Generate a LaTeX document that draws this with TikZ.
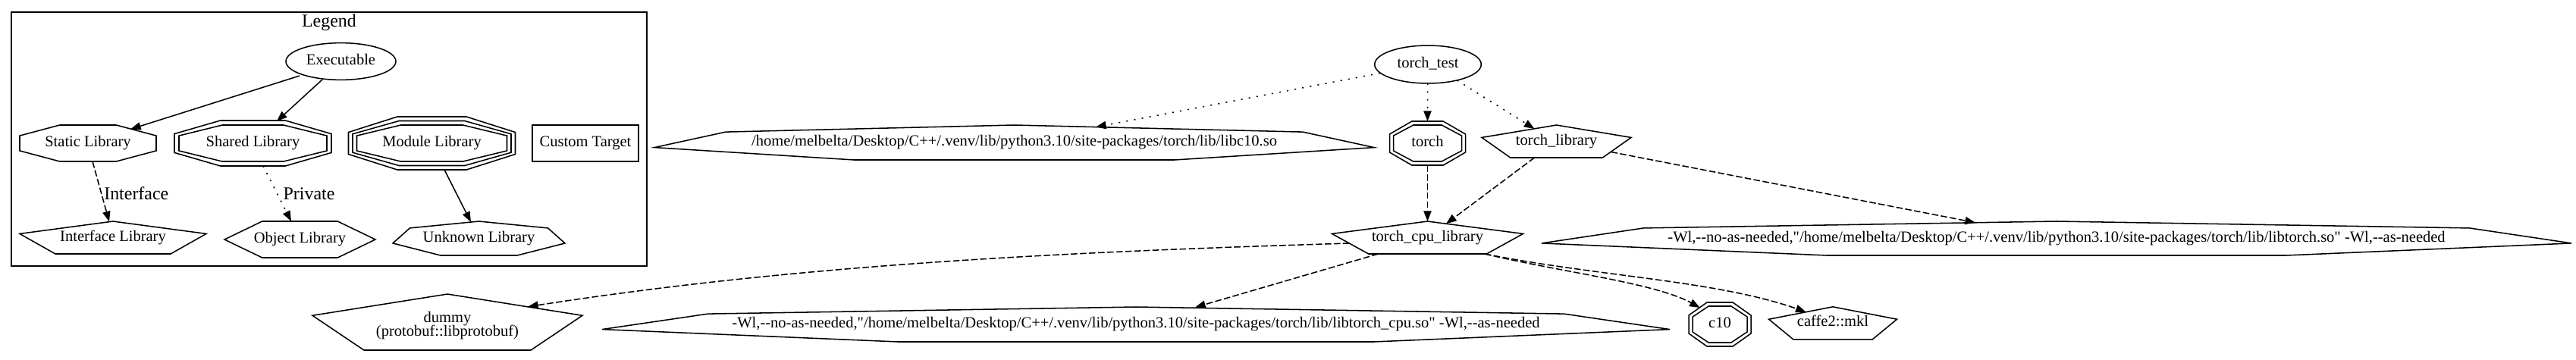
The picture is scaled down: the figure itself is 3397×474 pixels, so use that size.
\documentclass[tikz,border=0pt]{standalone}
\usepackage{fontspec}
\setmainfont{Liberation Serif}[Ligatures=TeXOff]
\usetikzlibrary{arrows.meta,calc,shapes.geometric}

\newcommand\gvOct[4]{\draw[shp] (#1-#3/2,#2-0.207*#4) -- (#1-0.207*#3,#2-#4/2) -- (#1+0.207*#3,#2-#4/2) -- (#1+#3/2,#2-0.207*#4) -- (#1+#3/2,#2+0.207*#4) -- (#1+0.207*#3,#2+#4/2) -- (#1-0.207*#3,#2+#4/2) -- (#1-#3/2,#2+0.207*#4) -- cycle;}
\newcommand\gvPent[4]{\draw[shp] (#1,#2-#4/2) -- (#1+#3/2,#2-0.118*#4) -- (#1+0.309*#3,#2+#4/2) -- (#1-0.309*#3,#2+#4/2) -- (#1-#3/2,#2-0.118*#4) -- cycle;}
\newcommand\gvHex[4]{\draw[shp] (#1-#3/2,#2) -- (#1-#3/4,#2-#4/2) -- (#1+#3/4,#2-#4/2) -- (#1+#3/2,#2) -- (#1+#3/4,#2+#4/2) -- (#1-#3/4,#2+#4/2) -- cycle;}
\newcommand\gvSept[4]{\draw[shp] (#1,#2-#4/2) -- (#1+0.401*#3,#2-0.302*#4) -- (#1+#3/2,#2+0.143*#4) -- (#1+0.2225*#3,#2+#4/2) -- (#1-0.2225*#3,#2+#4/2) -- (#1-#3/2,#2+0.143*#4) -- (#1-0.401*#3,#2-0.302*#4) -- cycle;}

\tikzset{
  gvtext/.style={inner sep=0pt, text height=8pt, text depth=2.74pt, font=\fontsize{12}{14}\selectfont},
  basetext/.style={inner sep=0pt, anchor=base, font=\fontsize{12}{14}\selectfont},
  elabel/.style={inner sep=0pt, anchor=base, font=\fontsize{14}{16}\selectfont},
  shp/.style={draw=black, line width=0.9pt, line join=miter},
  ellnode/.style={gvtext, shp, ellipse},
  pub/.style={draw=black, line width=0.9pt, -{Triangle[length=8pt,width=6pt]}},
  dashedge/.style={pub, dash pattern=on 5pt off 2pt},
  dottedge/.style={pub, dash pattern=on 1.2pt off 4.8pt},
}

\begin{document}
\begin{tikzpicture}[x=0.5848pt, y=-0.5848pt]
\useasboundingbox (0,0) rectangle (3397,474);

% ---------- Legend ----------
\draw[shp] (15,16) rectangle (853,351);
\node[elabel] (legend) at (434,35.5) {Legend};

\node[ellnode, minimum width=84.8pt, minimum height=28.5pt] (exe) at (449.5,81) {Executable};

\gvOct{116}{189}{180}{48}
\node[gvtext] (static) at (116,189) {Static Library};

\gvOct{333.5}{189}{195}{48}
\gvOct{333.5}{189}{207}{60}
\node[gvtext] (shared) at (333.5,189) {Shared Library};

\gvOct{569.5}{189}{198}{48}
\gvOct{569.5}{189}{209}{59}
\gvOct{569.5}{189}{220}{70}
\node[gvtext] (module) at (569.5,189) {Module Library};

\draw[shp] (702,165) rectangle (842,213);
\node[gvtext] (custom) at (772,189) {Custom Target};

\gvPent{149}{313.5}{246}{43}
\node[gvtext] (iface) at (149,313.5) {Interface Library};

\gvHex{395.5}{316}{199}{48}
\node[gvtext] (object) at (395.5,316) {Object Library};

\gvSept{631.5}{314.5}{227}{45}
\node[gvtext] (unknown) at (631.5,314.5) {Unknown Library};

\draw[pub] ($(exe)+(-54.5,19)$) -- ($(static)+(56,-18.5)$);
\draw[pub] ($(exe)+(-24.5,24)$) -- ($(shared)+(31.5,-29)$);
\draw[dashedge] ($(static)+(6,24)$) -- ($(iface)+(-5,-21)$);
\node[elabel] (lblI) at (179.8,263.3) {Interface};
\draw[dottedge] ($(shared)+(13.5,30)$) -- ($(object)+(-11.5,-24)$);
\node[elabel] (lblP) at (407.5,263.3) {Private};
\draw[pub] ($(module)+(16.5,35)$) -- ($(unknown)+(-10.5,-21.5)$);

% ---------- Graph ----------
\node[ellnode, minimum width=82.2pt, minimum height=29.2pt] (tt) at (1883,85) {torch\_test};

\gvSept{1337.5}{188}{949}{46}
\node[gvtext] (libc) at (1337.5,188) {/home/melbelta/Desktop/C++/.venv/lib/python3.10/site-packages/torch/lib/libc10.so};

\gvOct{1882.5}{189}{90}{48}
\gvOct{1882.5}{189}{100}{58}
\node[gvtext] (torch) at (1882.5,189) {torch};

\gvPent{2052.5}{186.5}{197}{43}
\node[gvtext] (tlib) at (2052.5,186.5) {torch\_library};

\gvPent{1882.5}{313.5}{252}{43}
\node[gvtext] (cpu) at (1882.5,313.5) {torch\_cpu\_library};

\gvSept{2712}{314.5}{1358}{45}
\node[gvtext] (libtorch) at (2712,314.5) {-Wl,-{}-no-as-needed,"/home/melbelta/Desktop/C++/.venv/lib/python3.10/site-packages/torch/lib/libtorch.so" -Wl,-{}-as-needed};

\gvPent{590}{425}{356}{74}
\node[basetext] (dummy) at (590,425.7) {dummy};
\node[basetext] (dummyb) at (590,443.3) {(protobuf::libprotobuf)};

\gvSept{1498}{428}{1408}{46}
\node[gvtext] (libtcpu) at (1498,428) {-Wl,-{}-no-as-needed,"/home/melbelta/Desktop/C++/.venv/lib/python3.10/site-packages/torch/lib/libtorch\_cpu.so" -Wl,-{}-as-needed};

\gvOct{2268}{428}{72}{48}
\gvOct{2268}{428}{82}{58}
\node[gvtext] (c10) at (2268,428) {c10};

\gvPent{2417}{426.3}{169}{43}
\node[gvtext] (caffe) at (2417,426.3) {caffe2::mkl};

\draw[dottedge] ($(tt)+(-63,11.5)$) -- ($(libc)+(107.5,-20.4)$);
\draw[dottedge] ($(tt)+(-0.5,25)$) -- ($(torch)+(0,-29)$);
\draw[dottedge] ($(tt)+(38.5,21)$) -- ($(tlib)+(-29,-16.5)$);
\draw[dashedge] ($(torch)+(0,29)$) -- ($(cpu)+(0,-21.5)$);
\draw[dashedge] ($(tlib)+(-29,21.5)$) -- ($(cpu)+(24.5,-18.3)$);
\draw[dashedge] ($(tlib)+(72,14)$) -- ($(libtorch)+(-107,-20.8)$);
\draw[dashedge] ($(cpu)+(-103,7.5)$) .. controls ($(cpu)+(-502,19.5)$) and ($(dummy.base)+(456,-75.2)$) .. ($(dummy.base)+(106,-21)$);
\draw[dashedge] ($(cpu)+(-65,21.5)$) -- ($(libtcpu)+(78,-22.5)$);
\draw[dashedge] ($(cpu)+(75.5,21.5)$) .. controls ($(cpu)+(175.5,45.5)$) and ($(c10)+(-86,-55)$) .. ($(c10)+(-26.3,-22)$);
\draw[dashedge] ($(cpu)+(75.5,21.5)$) .. controls ($(cpu)+(225.5,51.5)$) and ($(caffe)+(-155,-56.6)$) .. ($(caffe)+(-35.3,-14.6)$);
\end{tikzpicture}
\end{document}
